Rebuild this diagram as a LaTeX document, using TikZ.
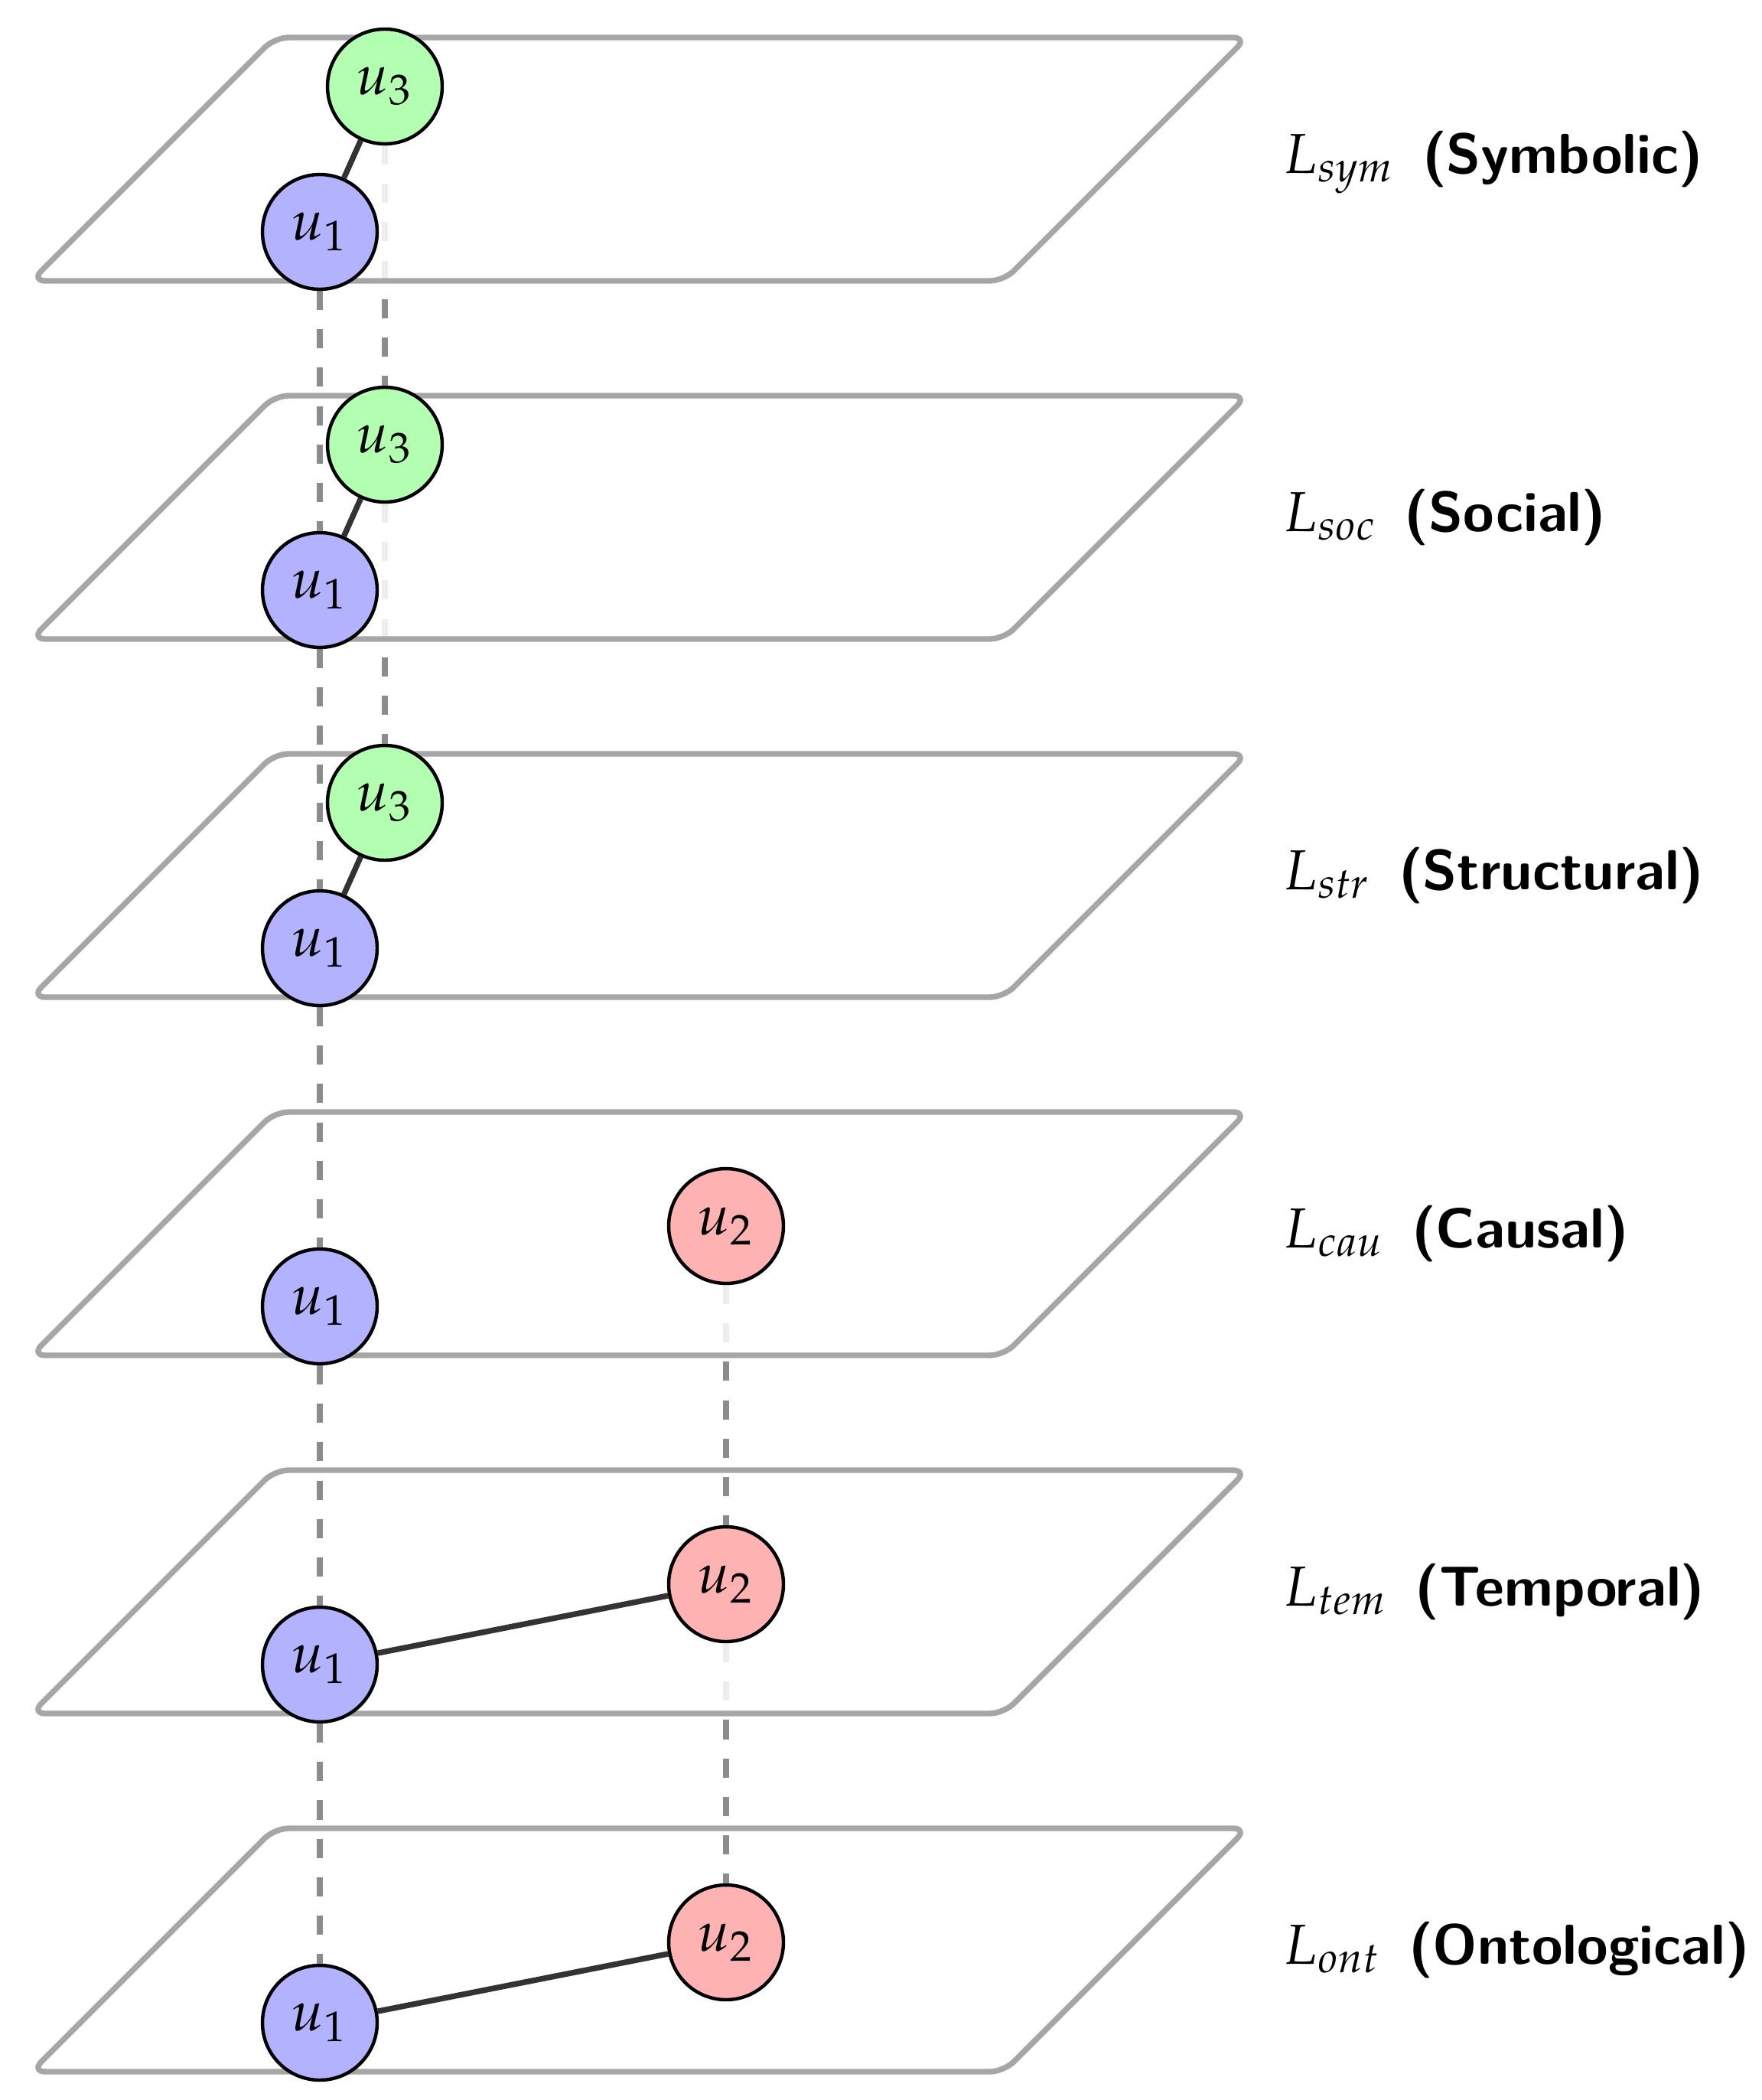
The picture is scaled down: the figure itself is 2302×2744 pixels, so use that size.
\documentclass[tikz,border=0pt]{standalone}
\usepackage{mathpazo}
\pgfdeclarelayer{l6}\pgfdeclarelayer{d5}\pgfdeclarelayer{l5}\pgfdeclarelayer{d4}
\pgfdeclarelayer{l4}\pgfdeclarelayer{d3}\pgfdeclarelayer{l3}\pgfdeclarelayer{d2}
\pgfdeclarelayer{l2}\pgfdeclarelayer{d1}\pgfdeclarelayer{l1}
\pgfsetlayers{l6,d5,l5,d4,l4,d3,l3,d2,l2,d1,l1,main}
\tikzset{
  plane/.style={draw=black!35, line width=1pt, fill=white, fill opacity=0.85, rounded corners=2.5pt},
  nd/.style={circle, draw=black, semithick, minimum size=20.35pt, inner sep=0pt},
  nua/.style={nd, fill=blue!30},
  nub/.style={nd, fill=red!30},
  nuc/.style={nd, fill=green!30},
  link/.style={draw=black!80, line width=1pt},
  vlink/.style={draw=black!45, line width=1pt, dash pattern=on 3.4pt off 3.4pt},
  lbl/.style={anchor=base west, inner sep=0pt}
}
\newcommand{\drawplane}[1]{\draw[plane] (359,#1) -- (1630,#1) -- (1312,{#1+318}) -- (41,{#1+318}) -- cycle;}
\newcommand{\lbltext}[2]{$L_{#1}$\hspace{4.8pt}{\sffamily\bfseries (#2)}}
\begin{document}
\begin{tikzpicture}[x=0.1357pt, y=-0.1357pt]
\useasboundingbox (0,0) rectangle (2302,2744);
% layer 1 (Symbolic)
\begin{pgfonlayer}{l1}
  \drawplane{49}
  \node[nua] (a1) at (418,303) {$u_1$};
  \node[nuc] (c1) at (503,113) {$u_3$};
  \draw[link] (a1) -- (c1);
\end{pgfonlayer}
% layer 2 (Social)
\begin{pgfonlayer}{l2}
  \drawplane{517}
  \node[nua] (a2) at (418,771) {$u_1$};
  \node[nuc] (c2) at (503,581) {$u_3$};
  \draw[link] (a2) -- (c2);
\end{pgfonlayer}
% layer 3 (Structural)
\begin{pgfonlayer}{l3}
  \drawplane{985}
  \node[nua] (a3) at (418,1239) {$u_1$};
  \node[nuc] (c3) at (503,1049) {$u_3$};
  \draw[link] (a3) -- (c3);
\end{pgfonlayer}
% layer 4 (Causal)
\begin{pgfonlayer}{l4}
  \drawplane{1453}
  \node[nua] (a4) at (418,1707) {$u_1$};
  \node[nub] (b4) at (949,1602) {$u_2$};
\end{pgfonlayer}
% layer 5 (Temporal)
\begin{pgfonlayer}{l5}
  \drawplane{1921}
  \node[nua] (a5) at (418,2175) {$u_1$};
  \node[nub] (b5) at (949,2070) {$u_2$};
  \draw[link] (a5) -- (b5);
\end{pgfonlayer}
% layer 6 (Ontological)
\begin{pgfonlayer}{l6}
  \drawplane{2389}
  \node[nua] (a6) at (418,2643) {$u_1$};
  \node[nub] (b6) at (949,2538) {$u_2$};
  \draw[link] (a6) -- (b6);
\end{pgfonlayer}
% inter-layer dashed links
\begin{pgfonlayer}{d1}
  \draw[vlink] (a1.south) -- (a2.north);
  \draw[vlink] (c1.south) -- (c2.north);
\end{pgfonlayer}
\begin{pgfonlayer}{d2}
  \draw[vlink] (a2.south) -- (a3.north);
  \draw[vlink] (c2.south) -- (c3.north);
\end{pgfonlayer}
\begin{pgfonlayer}{d3}
  \draw[vlink] (a3.south) -- (a4.north);
\end{pgfonlayer}
\begin{pgfonlayer}{d4}
  \draw[vlink] (a4.south) -- (a5.north);
  \draw[vlink] (b4.south) -- (b5.north);
\end{pgfonlayer}
\begin{pgfonlayer}{d5}
  \draw[vlink] (a5.south) -- (a6.north);
  \draw[vlink] (b5.south) -- (b6.north);
\end{pgfonlayer}
% labels
\node[lbl] (t1) at (1676,226)  {\lbltext{sym}{Symbolic}};
\node[lbl] (t2) at (1676,694)  {\lbltext{soc}{Social}};
\node[lbl] (t3) at (1676,1162) {\lbltext{str}{Structural}};
\node[lbl] (t4) at (1676,1630) {\lbltext{cau}{Causal}};
\node[lbl] (t5) at (1676,2098) {\lbltext{tem}{Temporal}};
\node[lbl] (t6) at (1676,2566) {\lbltext{ont}{Ontological}};
\end{tikzpicture}
\end{document}
